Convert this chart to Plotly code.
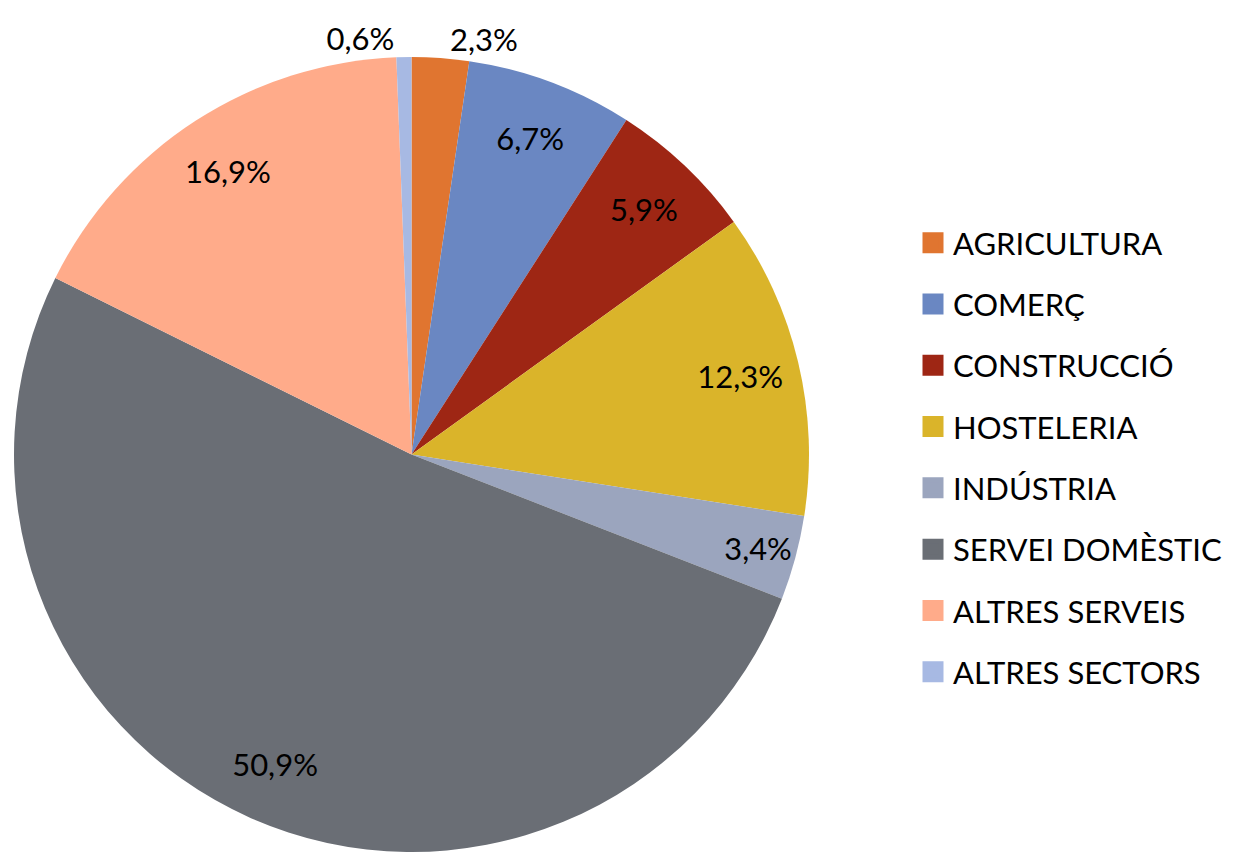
import plotly.graph_objects as go

labels = ["AGRICULTURA", "COMERÇ", "CONSTRUCCIÓ", "HOSTELERIA", "INDÚSTRIA",
          "SERVEI DOMÈSTIC", "ALTRES SERVEIS", "ALTRES SECTORS"]
values = [2.3, 6.7, 5.9, 12.3, 3.4, 50.9, 16.9, 0.6]
colors = ["#E07530", "#6A87C2", "#9E2614", "#DAB42A", "#9BA5BE",
          "#6A6E75", "#FFAB8A", "#A7B9E3"]
label_pos = ["outside", "inside", "inside", "inside", "inside",
             "inside", "inside", "outside"]

W, H = 1233, 852
FONT = "Lato"
dom_x = [14 / W, 809 / W]
dom_y = [0, 795 / H]

fig = go.Figure()

# main pie (colours)
fig.add_trace(go.Pie(
    labels=labels, values=values, sort=False, direction="clockwise",
    rotation=0, marker=dict(colors=colors, line=dict(width=0)),
    textinfo="none", hoverinfo="label+value", showlegend=False,
    domain=dict(x=dom_x, y=dom_y),
))

# transparent ring carrying the data labels near the rim
fig.add_trace(go.Pie(
    labels=labels, values=values, sort=False, direction="clockwise",
    rotation=0, hole=0.7, automargin=False,
    marker=dict(colors=["rgba(0,0,0,0)"] * len(values), line=dict(width=0)),
    texttemplate="%{value:.1f}%", textposition=label_pos,
    insidetextorientation="horizontal",
    textfont=dict(family=FONT, size=31, color="black"),
    hoverinfo="skip", showlegend=False,
    domain=dict(x=dom_x, y=dom_y),
))

# legend entries
for lab, col in zip(labels, colors):
    fig.add_trace(go.Scatter(
        x=[None], y=[None], mode="markers", name=lab, legendgroup=lab,
        marker=dict(symbol="square", size=16, color=col,
                    line=dict(color=col, width=5)),
        hoverinfo="skip",
    ))

fig.update_layout(
    width=W, height=H,
    margin=dict(l=0, r=0, t=0, b=0, autoexpand=False),
    paper_bgcolor="white", plot_bgcolor="white",
    separators=",.",
    font=dict(family=FONT, size=31, color="black"),
    xaxis=dict(visible=False), yaxis=dict(visible=False),
    legend=dict(x=(933 - 20) / W, xanchor="left", y=(852 - 216) / H, yanchor="top",
                font=dict(family=FONT, size=31, color="black"),
                tracegroupgap=18, bgcolor="rgba(0,0,0,0)", borderwidth=0),
    showlegend=True,
)

fig.write_html("out.html", config={"displayModeBar": False},
               post_script="document.body.style.margin='0';")
